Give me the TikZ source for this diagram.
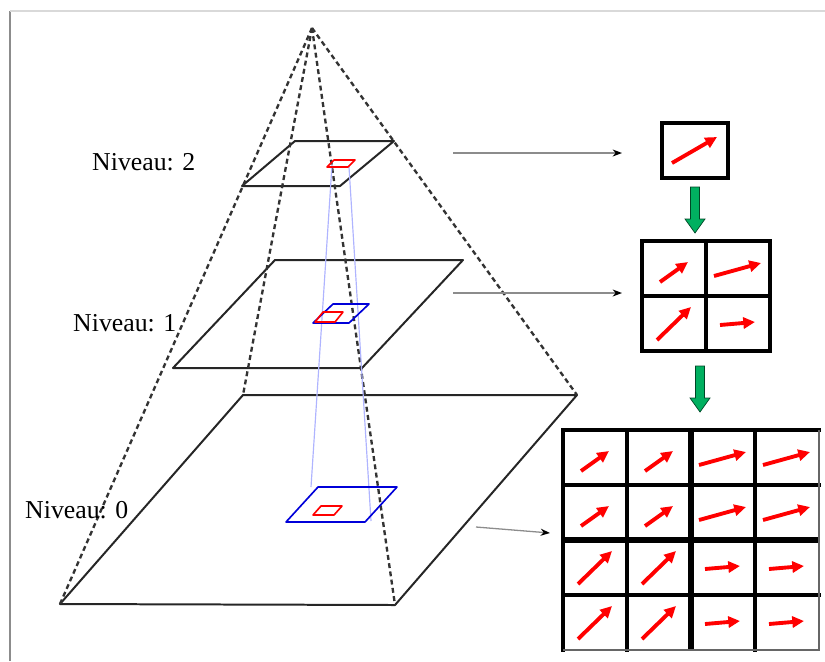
\documentclass[tikz,border=0pt]{standalone}
\usepackage{fontspec}
\setmainfont{Liberation Serif}
\usetikzlibrary{arrows.meta}
\definecolor{downgreen}{RGB}{0,176,96}
\definecolor{rayblue}{RGB}{175,180,255}
% red vector inside a cell, offsets from the cell's top left corner
\newcommand{\cellvec}[5]{\draw[vec] ([shift={(#2,#3)}]#1.north west) -- ([shift={(#4,#5)}]#1.north west);}
% green block arrow: centre x, top y
\newcommand{\downblock}[2]{\filldraw[blockarrow] (#1-4.5,#2) -- (#1+4.5,#2) -- (#1+4.5,#2+32) -- (#1+10,#2+32) -- (#1,#2+46) -- (#1-10,#2+32) -- (#1-4.5,#2+32) -- cycle;}

\begin{document}
\begin{tikzpicture}[x=0.03cm,y=-0.03cm,font=\fontsize{22}{26}\selectfont,
    plane/.style={draw=black!85,line width=1.7pt,line join=round},
    rib/.style={draw=black!80,line width=2pt,dash pattern=on 4.2pt off 2.9pt},
    ray/.style={draw=rayblue,line width=1pt},
    patch/.style={draw=blue!85!black,line width=1.4pt,line join=round},
    sub/.style={draw=red,line width=1.4pt,line join=round},
    feed/.style={draw=black!45,line width=1.1pt,-{Stealth[length=8pt,width=6pt,color=black]}},
    box/.style={draw,line width=3pt,inner sep=0pt,outer sep=0pt,minimum width=1.92cm,minimum height=1.65cm},
    cell/.style={inner sep=0pt,outer sep=0pt,minimum width=1.92cm,minimum height=1.65cm},
    gridline/.style={line width=2.8pt,line cap=rect},
    midline/.style={line width=5pt},
    vec/.style={draw=red,line width=3.3pt,-{Triangle[length=10pt,width=9.5pt]}},
    blockarrow/.style={fill=downgreen,draw=black!60!downgreen,line width=0.6pt},
    lvltext/.style={anchor=west,inner sep=0pt}]
\useasboundingbox (0,0) rectangle (825,661);
\draw[black!45,line width=1.5pt] (10,661) -- (10,11);
\draw[black!15,line width=1.5pt] (10,11) -- (825,11);

% pyramid
\coordinate (apex) at (312,28);
\coordinate (p0a) at (60,604);  \coordinate (p0b) at (395,605);
\coordinate (p0c) at (577,395); \coordinate (p0d) at (243,395);
\coordinate (p1a) at (173,368); \coordinate (p1b) at (362,368);
\coordinate (p1c) at (463,260); \coordinate (p1d) at (275,260);
\coordinate (p2a) at (242,186); \coordinate (p2b) at (340,186);
\coordinate (p2c) at (394,141); \coordinate (p2d) at (295,141);
\foreach \l in {0,1,2} {\draw[plane] (p\l a) -- (p\l b) -- (p\l c) -- (p\l d) -- cycle;}
\foreach \k in {p0a,p0b,p0c,p0d} {\draw[rib] (apex) -- (\k);}

% projection rays
\coordinate (r2a) at (332,165); \coordinate (r0a) at (311,487);
\coordinate (r2b) at (349,167); \coordinate (r0b) at (371,521);
\draw[ray] (r2a) -- (r0a);
\draw[ray] (r2b) -- (r0b);

% windows on the levels
\draw[sub] (327,167) -- (348,167) -- (355,160) -- (334,160) -- cycle;
\draw[patch] (313,323) -- (349,323) -- (369,304) -- (333,304) -- cycle;
\draw[sub] (315,322) -- (335,322) -- (343,312) -- (323,312) -- cycle;
\draw[patch] (286,522) -- (365,522) -- (397,487) -- (318,487) -- cycle;
\draw[sub] (313,515) -- (334,515) -- (342,506) -- (321,506) -- cycle;

\node[lvltext] (lab2) at (92,162) {Niveau: 2};
\node[lvltext] (lab1) at (73,323) {Niveau: 1};
\node[lvltext] (lab0) at (25,510) {Niveau: 0};

% motion fields
\node[box,minimum width=1.98cm] (top) at (695,150.5) {};
\foreach \r in {1,2} {\foreach \c in {1,2} {\node[box] (m\r\c) at ({610+64*\c},{213.5+55*\r}) {};}}
\foreach \r in {1,...,4} {\foreach \c in {1,...,4} {\node[cell] (g\r\c) at ({531+64*\c},{402.5+55*\r}) {};}}

\foreach \c in {1,2,4} {\draw[gridline] (g1\c.north west) -- (g4\c.south west);}
\draw[midline] (g13.north west) -- (g43.south west);
\foreach \r in {1,2,4} {\draw[gridline] (g\r1.north west) -- (g\r4.north east);}
\draw[midline] (g31.north west) -- (g34.north east);
\draw[black!60,line width=1.5pt] (g14.north east) -- (g44.south east) -- (g41.south west);

\cellvec{top}{10}{40}{55}{14}
\cellvec{m11}{18}{41}{46}{21}
\cellvec{m12}{8}{35}{55}{22}
\cellvec{m21}{15}{44}{49}{11}
\cellvec{m22}{14}{29}{49}{26}
\foreach \r in {1,2} {\foreach \c in {1,2} {\cellvec{g\r\c}{18}{41}{46}{21}}}
\foreach \r in {1,2} {\foreach \c in {3,4} {\cellvec{g\r\c}{8}{35}{55}{22}}}
\foreach \r in {3,4} {\foreach \c in {1,2} {\cellvec{g\r\c}{15}{44}{49}{11}}}
\foreach \r in {3,4} {\foreach \c in {3,4} {\cellvec{g\r\c}{14}{29}{49}{26}}}

\downblock{695}{187}
\downblock{700}{366}

% level to field
\coordinate (f2) at (453,153); \coordinate (t2) at (622,153);
\coordinate (f1) at (453,293); \coordinate (t1) at (622,293);
\coordinate (f0) at (476,527); \coordinate (t0) at (550,533);
\draw[feed] (f2) -- (t2);
\draw[feed] (f1) -- (t1);
\draw[feed] (f0) -- (t0);
\end{tikzpicture}
\end{document}
